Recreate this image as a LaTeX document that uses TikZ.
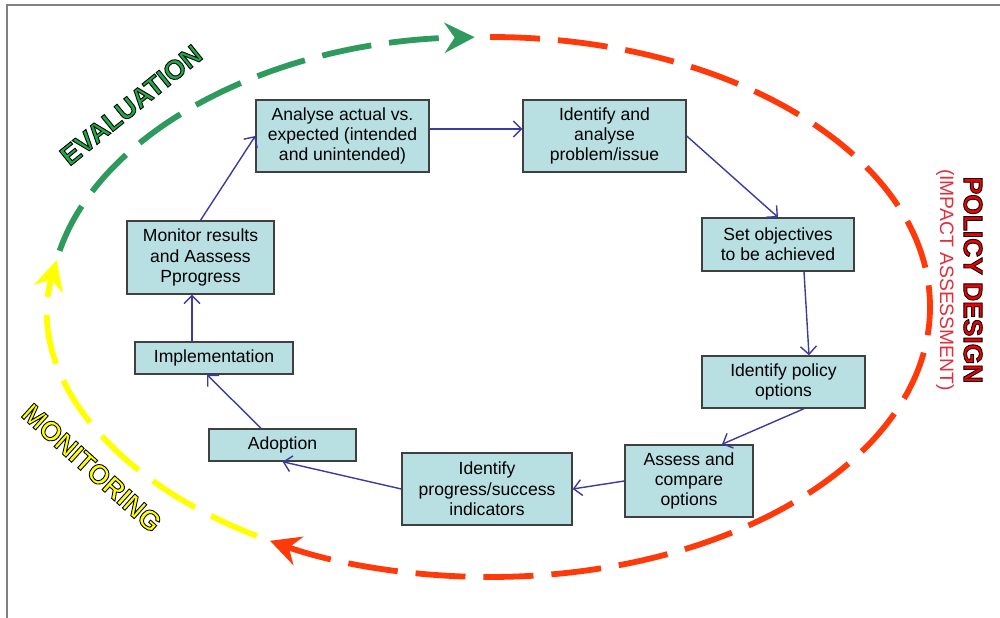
\documentclass[tikz,border=0pt]{standalone}
\usepackage{fontspec}
\setmainfont{Liberation Sans}
\usetikzlibrary{arrows.meta}

\definecolor{boxfill}{HTML}{B8DFE2}
\definecolor{flowblue}{HTML}{3C3CA0}
\definecolor{evalgreen}{HTML}{2E9A5E}
\definecolor{evaltext}{HTML}{1EAA4A}
\definecolor{designred}{HTML}{FF3A0A}
\definecolor{monyellow}{HTML}{FFFF00}
\definecolor{titlered}{HTML}{F00000}
\definecolor{impactred}{HTML}{E0303C}

% Text filled in a colour and stroked round in black.
\newcommand{\outlined}[2]{%
    \textcolor{#1}{\special{pdf:code 0 0 0 RG 0.5 w 2 Tr}#2\special{pdf:code 0 Tr}}}

\begin{document}
\begin{tikzpicture}[%
        font = \fontsize{10}{11.6}\selectfont,
        stepbox/.style = {draw = black!75, fill = boxfill, line width = 0.8pt,
            align = center, inner sep = 2pt},
        flow/.style = {draw = flowblue, line width = 0.8pt,
            -{Straight Barb[length = 1.6mm, width = 3.2mm]}},
        stagearc/.style = {line width = 3.3pt, dash pattern = on 1cm off 0.36cm,
            -{Stealth[length = 6mm, width = 6mm, inset = 2mm]}},
        stagename/.style = {font = \bfseries\fontsize{15.5}{15.5}\selectfont}
    ]

        \useasboundingbox (0, 0) rectangle (20, 12.36);

        % Frame round the slide.
        \draw[gray, line width = 1.1pt] (20, 12.26) -- (0.14, 12.26) -- (0.14, 0);

        % Centre of the big dashed cycle.
        \coordinate (C) at (9.80, 6.22);

        % The three stages of the cycle.
        \draw[stagearc, evalgreen] (C) ++(168:8.8 and 5.4)
            arc[start angle = 168, end angle = 92, x radius = 8.8cm, y radius = 5.4cm];
        \draw[stagearc, designred] (C) ++(90:8.8 and 5.4)
            arc[start angle = 90, end angle = -120, x radius = 8.8cm, y radius = 5.4cm];
        \draw[stagearc, monyellow] (C) ++(-122:8.8 and 5.4)
            arc[start angle = -122, end angle = -190, x radius = 8.8cm, y radius = 5.4cm];

        % Steps of the policy cycle.
        \node[stepbox, minimum width = 3.46cm, minimum height = 1.44cm] (analyse)
            at (6.85, 9.64) {Analyse actual vs.\\expected (intended\\and unintended)};
        \node[stepbox, minimum width = 3.26cm, minimum height = 1.44cm] (problem)
            at (12.09, 9.64) {Identify and\\analyse\\problem/issue};
        \node[stepbox, minimum width = 3.04cm, minimum height = 1.06cm] (objectives)
            at (15.56, 7.47) {Set objectives\\to be achieved};
        \node[stepbox, minimum width = 3.26cm, minimum height = 1.04cm] (options)
            at (15.67, 4.72) {Identify policy\\options};
        \node[stepbox, minimum width = 2.56cm, minimum height = 1.44cm] (assess)
            at (13.78, 2.74) {Assess and\\compare\\options};
        \node[stepbox, minimum width = 3.40cm, minimum height = 1.44cm] (indicators)
            at (9.74, 2.58) {Identify\\progress/success\\indicators};
        \node[stepbox, minimum width = 2.94cm, minimum height = 0.64cm] (adoption)
            at (5.65, 3.46) {Adoption};
        \node[stepbox, minimum width = 3.16cm, minimum height = 0.64cm] (implement)
            at (4.28, 5.20) {Implementation};
        \node[stepbox, minimum width = 2.94cm, minimum height = 1.46cm] (monitor)
            at (4.01, 7.21) {Monitor results\\and Aassess\\Pprogress};

        % Arrows from step to step.
        \draw[flow] ([yshift = 0.14cm]analyse.east) -- ([yshift = 0.14cm]problem.west);
        \draw[flow] (problem.east) -- (objectives.north);
        \draw[flow] ([xshift = 0.52cm]objectives.south) -- ([xshift = 0.51cm]options.north);
        \draw[flow] ([xshift = 0.41cm]options.south) -- ([xshift = 0.66cm]assess.north);
        \draw[flow] (assess.west) -- (indicators.east);
        \draw[flow] (indicators.west) -- (adoption.south);
        \draw[flow] ([xshift = -0.43cm]adoption.north) -- ([xshift = -0.14cm]implement.south);
        \draw[flow] ([xshift = -0.44cm]implement.north) -- ([xshift = -0.17cm]monitor.south);
        \draw[flow] (monitor.north) -- (analyse.west);

        % Names of the stages.
        \node[stagename, rotate = 39] (evallabel)
            at (2.62, 10.26) {\outlined{evaltext}{EVALUATION}};
        \node[stagename, rotate = -42] (monlabel)
            at (1.84, 3.00) {\outlined{monyellow}{MONITORING}};
        \node[stagename, rotate = -90, font = \bfseries\fontsize{15}{15}\selectfont] (designlabel)
            at (19.46, 6.76) {\outlined{titlered}{POLICY DESIGN}};
        \node[rotate = -90, font = \fontsize{11}{11}\selectfont, text = impactred] (impactlabel)
            at (18.90, 6.76) {(IMPACT ASSESSMENT)};
    \end{tikzpicture}
\end{document}
